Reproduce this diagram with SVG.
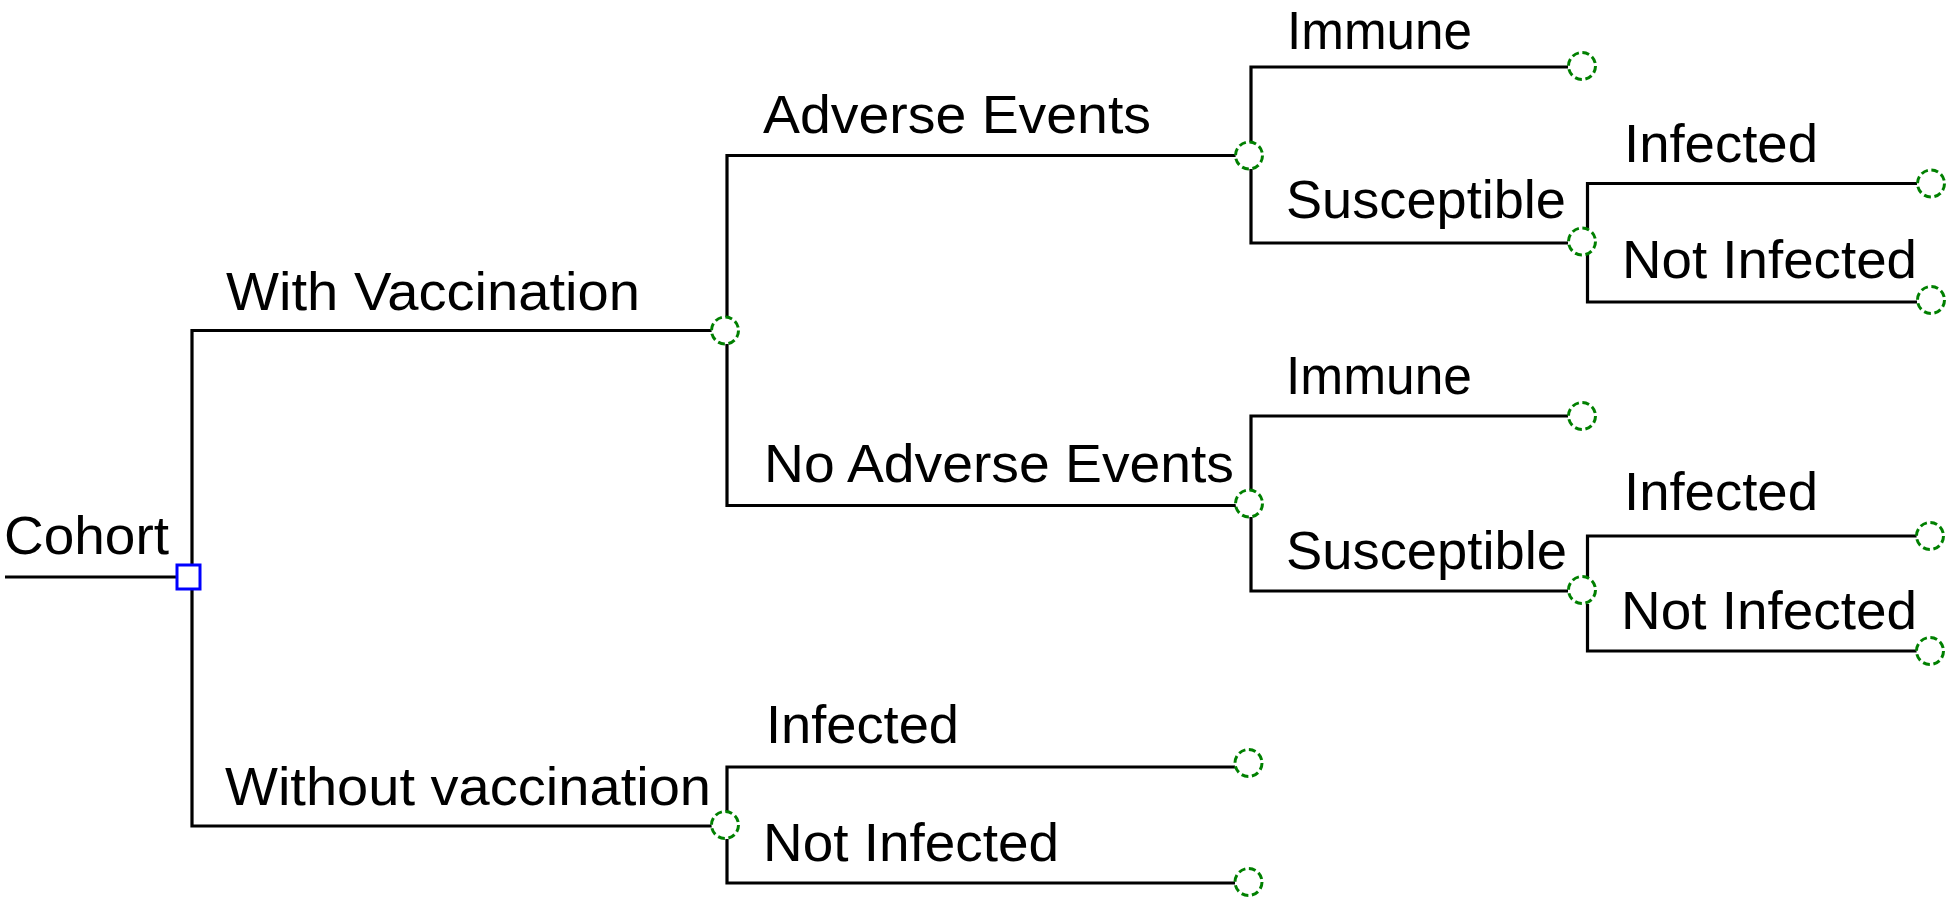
<svg xmlns="http://www.w3.org/2000/svg" width="1946" height="897" viewBox="0 0 1946 897">
<style>
.edge{fill:none;stroke:#000;stroke-width:3.2}
.lbl{font-family:"Liberation Sans",Arial,sans-serif;font-size:54px;fill:#000}
.chance{fill:#fff;stroke:#008000;stroke-width:3;stroke-dasharray:7 3.6}
.term{fill:#fff;stroke:#008000;stroke-width:3;stroke-dasharray:7 3.6}
.dec{fill:#fff;stroke:#0000ff;stroke-width:3}
</style>
<rect width="1946" height="897" fill="#fff"/>
<g id="connectors">
  <path class="edge" d="M5,577 H176"/>
  <text class="lbl" x="4" y="554" textLength="165" lengthAdjust="spacingAndGlyphs">Cohort</text>
  <path class="edge" d="M192,564 V330.5 H712"/>
  <text class="lbl" x="226" y="310" textLength="414" lengthAdjust="spacingAndGlyphs">With Vaccination</text>
  <path class="edge" d="M192,590 V826 H712"/>
  <text class="lbl" x="225" y="805" textLength="486" lengthAdjust="spacingAndGlyphs">Without vaccination</text>
  <path class="edge" d="M727,317 V155.5 H1236"/>
  <text class="lbl" x="763" y="133" textLength="388" lengthAdjust="spacingAndGlyphs">Adverse Events</text>
  <path class="edge" d="M727,344 V505.5 H1236"/>
  <text class="lbl" x="764" y="482" textLength="470" lengthAdjust="spacingAndGlyphs">No Adverse Events</text>
  <path class="edge" d="M727,812 V767 H1235"/>
  <text class="lbl" x="766" y="743" textLength="193" lengthAdjust="spacingAndGlyphs">Infected</text>
  <path class="edge" d="M727,839 V883 H1235"/>
  <text class="lbl" x="763" y="861" textLength="296" lengthAdjust="spacingAndGlyphs">Not Infected</text>
  <path class="edge" d="M1251,142 V67 H1568"/>
  <text class="lbl" x="1287" y="49" textLength="185" lengthAdjust="spacingAndGlyphs">Immune</text>
  <path class="edge" d="M1251,169 V243 H1568"/>
  <text class="lbl" x="1286" y="218" textLength="280" lengthAdjust="spacingAndGlyphs">Susceptible</text>
  <path class="edge" d="M1251,490 V416 H1568"/>
  <text class="lbl" x="1286" y="394" textLength="186" lengthAdjust="spacingAndGlyphs">Immune</text>
  <path class="edge" d="M1251,517 V591 H1568"/>
  <text class="lbl" x="1286" y="569" textLength="281" lengthAdjust="spacingAndGlyphs">Susceptible</text>
  <path class="edge" d="M1587.5,228 V183.5 H1917"/>
  <text class="lbl" x="1624" y="162" textLength="194" lengthAdjust="spacingAndGlyphs">Infected</text>
  <path class="edge" d="M1587.5,255 V302 H1917"/>
  <text class="lbl" x="1622" y="278" textLength="295" lengthAdjust="spacingAndGlyphs">Not Infected</text>
  <path class="edge" d="M1587.5,577 V536 H1917"/>
  <text class="lbl" x="1624" y="510" textLength="194" lengthAdjust="spacingAndGlyphs">Infected</text>
  <path class="edge" d="M1587.5,604 V651 H1917"/>
  <text class="lbl" x="1621" y="629" textLength="296" lengthAdjust="spacingAndGlyphs">Not Infected</text>
</g>
<g id="cohort"><rect class="dec" x="177" y="565" width="23" height="24"/></g>
<g id="with-vaccination"><circle class="chance" cx="725" cy="330.5" r="13.5"/></g>
<g id="without-vaccination"><circle class="chance" cx="725" cy="825" r="13.5"/></g>
<g id="adverse-events"><circle class="chance" cx="1249" cy="155.5" r="13.5"/></g>
<g id="no-adverse-events"><circle class="chance" cx="1249" cy="503.5" r="13.5"/></g>
<g id="wo-infected"><circle class="term" cx="1248.5" cy="763" r="13.5"/></g>
<g id="wo-not-infected"><circle class="term" cx="1248.5" cy="882" r="13.5"/></g>
<g id="ae-immune"><circle class="term" cx="1582" cy="66" r="13.5"/></g>
<g id="ae-susceptible"><circle class="chance" cx="1582" cy="241.5" r="13.5"/></g>
<g id="nae-immune"><circle class="term" cx="1582" cy="416" r="13.5"/></g>
<g id="nae-susceptible"><circle class="chance" cx="1582" cy="590" r="13.5"/></g>
<g id="ae-infected"><circle class="term" cx="1931" cy="183.5" r="13.5"/></g>
<g id="ae-not-infected"><circle class="term" cx="1931" cy="300" r="13.5"/></g>
<g id="nae-infected"><circle class="term" cx="1930" cy="536" r="13.5"/></g>
<g id="nae-not-infected"><circle class="term" cx="1930" cy="651" r="13.5"/></g>
</svg>
